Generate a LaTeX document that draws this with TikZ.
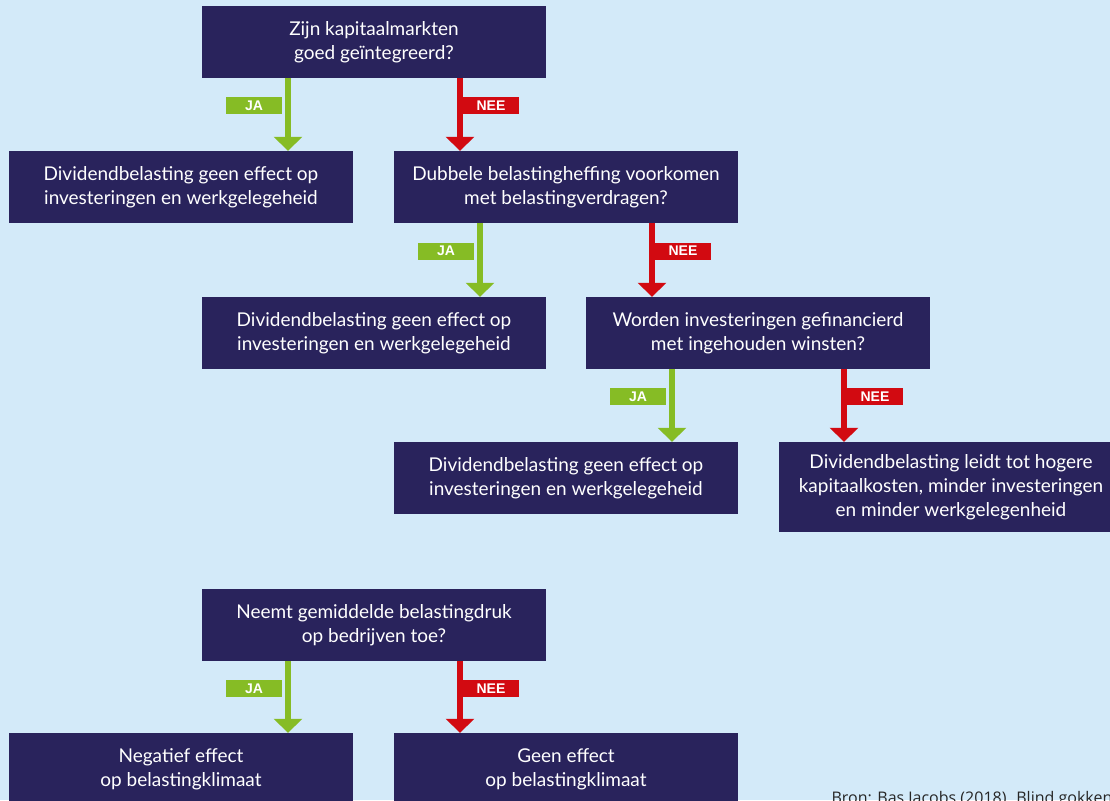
\documentclass[tikz,border=0pt]{standalone}
\usepackage{fontspec}
\setmainfont{Lato}
\newfontfamily\labfont{Liberation Sans}
\newfontfamily\srcfont{Open Sans}
\usetikzlibrary{arrows.meta}
\definecolor{navy}{HTML}{29235C}
\definecolor{skyblue}{HTML}{D3EAF9}
\definecolor{jagreen}{HTML}{86BC25}
\definecolor{neered}{HTML}{D20A11}
\tikzset{
  box/.style={fill=navy,text=white,minimum width=344pt,minimum height=72pt,
    inner sep=0pt,align=center,font=\fontsize{19}{24}\selectfont},
  ja/.style={draw=jagreen,line width=6pt,-{Triangle[width=28pt,length=14pt]}},
  nee/.style={draw=neered,line width=6pt,-{Triangle[width=28pt,length=14pt]}},
  jalab/.style={fill=jagreen,text=white,minimum width=56pt,minimum height=17pt,
    inner sep=0pt,pos=.38,anchor=east,xshift=-3pt,font=\labfont\bfseries\fontsize{14}{14}\selectfont},
  neelab/.style={jalab,fill=neered,anchor=west,xshift=3pt},
}
\begin{document}
\begin{tikzpicture}[x=1pt,y=-1pt]
  \path[use as bounding box,fill=skyblue] (0,0) rectangle (1110,800);
  \clip (0,0) rectangle (1110,800);
  \node[box] (q1) at (374,42)  {Zijn kapitaalmarkten\\goed geïntegreerd?};
  \node[box] (a1) at (181,187) {Dividendbelasting geen effect op\\investeringen en werkgelegeheid};
  \node[box] (q2) at (566,187) {Dubbele belastingheffing voorkomen\\met belastingverdragen?};
  \node[box] (a2) at (374,333) {Dividendbelasting geen effect op\\investeringen en werkgelegeheid};
  \node[box] (q3) at (758,333) {Worden investeringen gefinancierd\\met ingehouden winsten?};
  \node[box] (a3) at (566,478) {Dividendbelasting geen effect op\\investeringen en werkgelegeheid};
  \node[box,minimum height=90pt] (a4) at (951,487)
    {Dividendbelasting leidt tot hogere\\kapitaalkosten, minder investeringen\\en minder werkgelegenheid};
  \node[box] (q4) at (374,625) {Neemt gemiddelde belastingdruk\\op bedrijven toe?};
  \node[box] (b1) at (181,769) {Negatief effect\\op belastingklimaat};
  \node[box] (b2) at (566,769) {Geen effect\\op belastingklimaat};
  \foreach \q/\y/\n in {q1/a1/q2, q2/a2/q3, q3/a3/a4, q4/b1/b2}{
    \draw[ja] ([xshift=-86pt]\q.south) -- ([xshift=-86pt]\q.south |- \y.north) node[jalab]{JA};
    \draw[nee] ([xshift=86pt]\q.south) -- ([xshift=86pt]\q.south |- \n.north) node[neelab]{NEE};
  }
  \node[anchor=base west,font=\srcfont\fontsize{16}{16}\selectfont,text=black!85] (src) at (828,803)
    {Bron: Bas Jacobs (2018). Blind gokken};
\end{tikzpicture}
\end{document}
